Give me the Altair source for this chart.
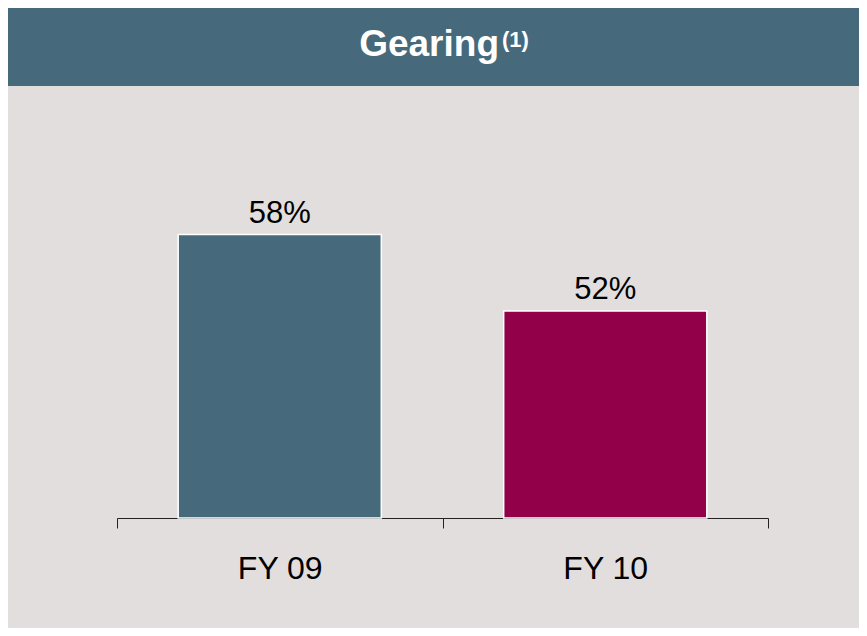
import altair as alt
import pandas as pd

# ---- data ----
categories = ["FY 09", "FY 10"]
values = [58, 52]
labels = ["58%", "52%"]
bar_colors = ["#46697c", "#910048"]
title_main = "Gearing"
title_sup = "(1)"

# axis range (bars do not start at zero)
y_min = 35.76
y_max = 69.65

BG = "#e2dedd"
BAND = "#46697c"
FONT = "Liberation Sans"

W, H = 651, 432
PAD = {"left": 109, "top": 78, "right": 91, "bottom": 110}

df = pd.DataFrame({"cat": categories, "val": values, "lab": labels, "col": bar_colors})
df["base"] = y_min
hdr = pd.DataFrame({"t": [title_main], "s": [title_sup]})

x_enc = alt.X(
    "cat:N",
    sort=categories,
    scale=alt.Scale(paddingInner=0, paddingOuter=0),
    axis=alt.Axis(
        title=None,
        labelAngle=0,
        labelFont=FONT,
        labelFontSize=32,
        labelColor="#000000",
        labelBaseline="alphabetic",
        labelPadding=50,
        tickBand="extent",
        tickSize=10,
        tickColor="#222222",
        domainColor="#222222",
        domainWidth=1,
        tickWidth=1,
        grid=False,
    ),
)
y_scale = alt.Scale(domain=[y_min, y_max], zero=False, nice=False)

bars = alt.Chart(df).mark_bar(
    stroke="white", strokeWidth=1.5, width=alt.RelativeBandSize(0.624)
).encode(
    x=x_enc,
    y=alt.Y("val:Q", scale=y_scale, axis=None),
    y2="base:Q",
    color=alt.Color("col:N", scale=None, legend=None),
)

text = alt.Chart(df).mark_text(
    font=FONT, fontSize=31, color="#000000", baseline="alphabetic", dy=-12
).encode(
    x=alt.X("cat:N", sort=categories),
    y=alt.Y("val:Q", scale=y_scale),
    text="lab:N",
)

band = alt.Chart(hdr).mark_rect(color=BAND).encode(
    x=alt.value(-120), x2=alt.value(W + 110), y=alt.value(-100), y2=alt.value(0)
)

title = alt.Chart(hdr).mark_text(
    font=FONT, fontSize=37, fontWeight="bold", color="white", baseline="alphabetic", align="right"
).encode(x=alt.value(382), y=alt.value(-30), text="t:N")

title_s = alt.Chart(hdr).mark_text(
    font=FONT, fontSize=22, fontWeight="bold", color="white", baseline="alphabetic", align="left"
).encode(x=alt.value(385), y=alt.value(-39), text="s:N")

chart = (
    alt.layer(band, bars, text, title, title_s)
    .properties(
        width=W,
        height=H,
        padding=PAD,
        autosize=alt.AutoSizeParams(type="none"),
        background=BG,
    )
    .configure_view(stroke=None)
)

chart.save("out.html", embed_options={"renderer": "svg", "actions": False})
